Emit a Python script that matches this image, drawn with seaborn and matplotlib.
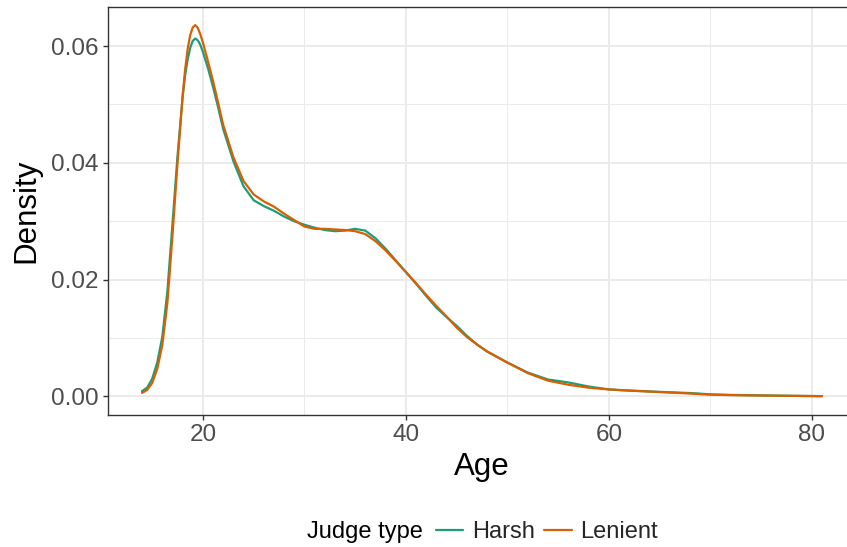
import matplotlib
matplotlib.use("Agg")
import matplotlib.pyplot as plt
from matplotlib.lines import Line2D
from matplotlib.ticker import FixedLocator, FormatStrFormatter
import pandas as pd
import seaborn as sns

# Density of defendant age by judge type (estimated curve values)
age = [14, 14.5, 15, 15.5, 16, 16.5, 17, 17.5, 18, 18.25, 18.5, 18.75, 19,
       19.25, 19.5, 19.75, 20, 20.5, 21, 21.5, 22, 23, 24, 25, 26, 27, 28, 29,
       30, 31, 32, 33, 34, 35, 36, 37, 38, 39, 40, 41, 42, 43, 44, 45, 46, 47,
       48, 50, 52, 54, 56, 58, 60, 62, 65, 68, 70, 72, 75, 78, 81]

harsh = [0.0009, 0.0015, 0.0030, 0.0058, 0.0102, 0.0180, 0.0295, 0.0412,
         0.0512, 0.0550, 0.0577, 0.0597, 0.0609, 0.0613, 0.0610, 0.0602,
         0.0590, 0.0562, 0.0530, 0.0495, 0.0458, 0.0403, 0.0360, 0.0336,
         0.0326, 0.0318, 0.0308, 0.0300, 0.0294, 0.0289, 0.0285, 0.0283,
         0.0284, 0.0287, 0.0284, 0.0271, 0.0253, 0.0233, 0.0213, 0.0193,
         0.0172, 0.0152, 0.0136, 0.0121, 0.0104, 0.0089, 0.0077, 0.0058,
         0.0041, 0.0029, 0.0024, 0.0017, 0.0012, 0.0010, 0.00078, 0.00058,
         0.00036, 0.00026, 0.00018, 0.00010, 0.00005]

lenient = [0.0006, 0.0011, 0.0023, 0.0047, 0.0088, 0.0160, 0.0275, 0.0400,
           0.0515, 0.0560, 0.0595, 0.0619, 0.0632, 0.0636, 0.0631, 0.0620,
           0.0606, 0.0574, 0.0540, 0.0503, 0.0465, 0.0410, 0.0369, 0.0346,
           0.0334, 0.0325, 0.0313, 0.0302, 0.0291, 0.0287, 0.0287, 0.0286,
           0.0285, 0.0283, 0.0278, 0.0266, 0.0250, 0.0232, 0.0213, 0.0194,
           0.0174, 0.0155, 0.0137, 0.0118, 0.0102, 0.0089, 0.0077, 0.0058,
           0.0040, 0.0027, 0.0020, 0.0015, 0.0012, 0.0010, 0.00075, 0.0005,
           0.0003, 0.00022, 0.00015, 0.0001, 0.00005]

judge_types = ["Harsh", "Lenient"]
colors = {"Harsh": "#1B9E77", "Lenient": "#D95F02"}

x_major = [20, 40, 60, 80]
x_minor = [30, 50, 70]
y_major = [0.00, 0.02, 0.04, 0.06]
y_minor = [0.01, 0.03, 0.05]

df = pd.concat([
    pd.DataFrame({"age": age, "density": harsh, "judge": "Harsh"}),
    pd.DataFrame({"age": age, "density": lenient, "judge": "Lenient"}),
], ignore_index=True)

sns.set_theme(style="ticks")
plt.rcParams["font.family"] = ["Liberation Sans", "DejaVu Sans"]

W, H = 847, 547
fig = plt.figure(figsize=(W / 100, H / 100), dpi=100)
fig.patch.set_facecolor("white")
ax = fig.add_axes([108 / W, 132 / H, 748 / W, 408.5 / H])

sns.lineplot(data=df, x="age", y="density", hue="judge", hue_order=judge_types,
             palette=colors, linewidth=1.6, errorbar=None, legend=False, ax=ax)
for line in ax.get_lines():
    line.set_solid_joinstyle("round")

# ggplot-like expansion of the data range
xmin, xmax = min(age), max(age)
pad = 0.05 * (xmax - xmin)
ax.set_xlim(xmin - pad, xmax + pad)
ymax = max(max(harsh), max(lenient))
ax.set_ylim(-0.05 * ymax, 1.05 * ymax)

ax.xaxis.set_major_locator(FixedLocator(x_major))
ax.xaxis.set_minor_locator(FixedLocator(x_minor))
ax.yaxis.set_major_locator(FixedLocator(y_major))
ax.yaxis.set_minor_locator(FixedLocator(y_minor))
ax.yaxis.set_major_formatter(FormatStrFormatter("%.2f"))

ax.set_axisbelow(True)
ax.grid(which="major", color="#EBEBEB", linewidth=1.4)
ax.grid(which="minor", color="#EBEBEB", linewidth=0.7)

for sp in ax.spines.values():
    sp.set_visible(True)
    sp.set_color("#333333")
    sp.set_linewidth(1.0)

ax.tick_params(which="major", bottom=True, left=True, length=3.3, width=1.0,
               color="#333333", labelsize=17.5, labelcolor="#4D4D4D", pad=3.5)
ax.tick_params(which="minor", length=0)

ax.set_xlabel("Age", fontsize=22.5, color="black", labelpad=4)
ax.set_ylabel("Density", fontsize=22.5, color="black", labelpad=7)

# Horizontal legend below the panel
ly = 1 - 532 / H
fig.text(306.7 / W, ly, "Judge type", fontsize=17, color="black",
         ha="left", va="center")
handles = [Line2D([0], [0], color=colors[j], linewidth=1.6) for j in judge_types]
fig.legend(handles, judge_types, loc="center left",
           bbox_to_anchor=(435.7 / W, ly), ncol=2, frameon=False, fontsize=17,
           handlelength=1.17, handletextpad=0.37, columnspacing=0.38,
           borderpad=0, borderaxespad=0)

fig.savefig("out.png", dpi=100, facecolor="white")
